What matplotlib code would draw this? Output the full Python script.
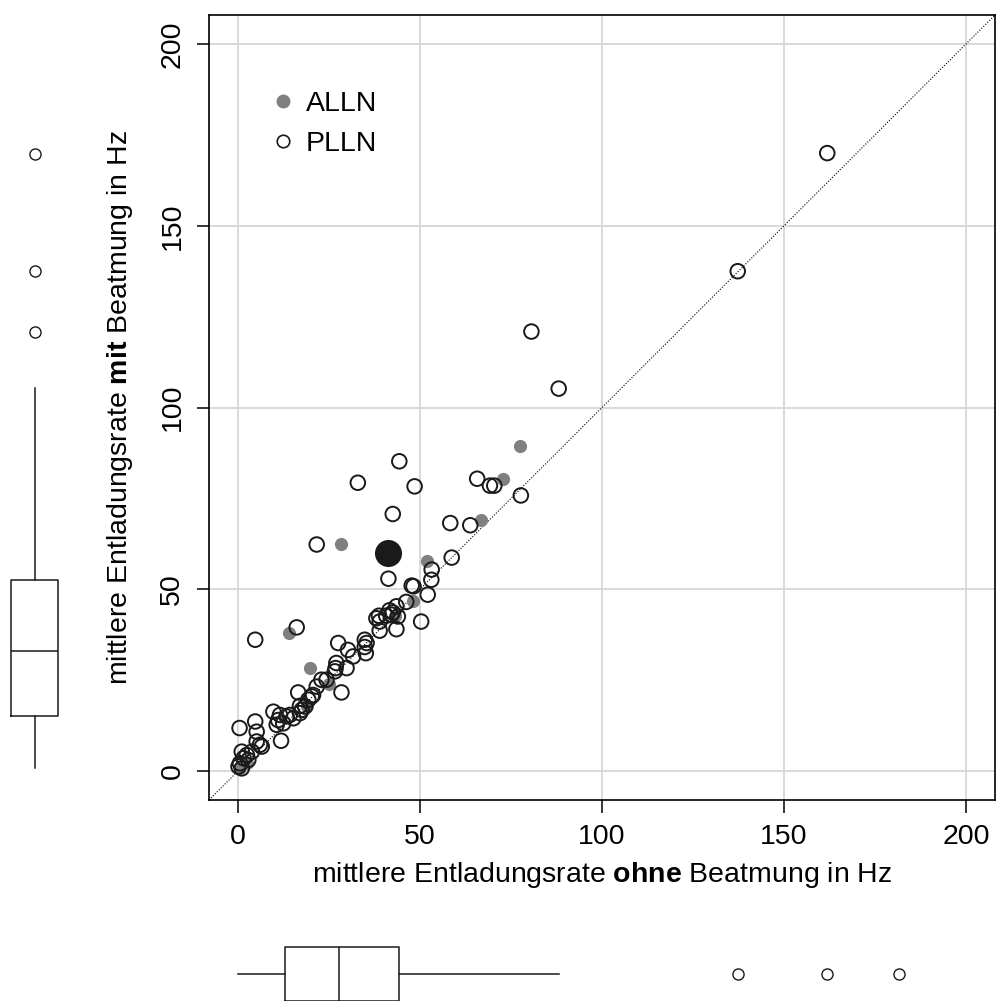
import numpy as np
import matplotlib
matplotlib.use('Agg')
import matplotlib.pyplot as plt
from matplotlib.lines import Line2D

plt.rcParams['font.family'] = ['Liberation Sans', 'DejaVu Sans']
plt.rcParams['mathtext.fontset'] = 'custom'
plt.rcParams['mathtext.rm'] = 'Liberation Sans'
plt.rcParams['mathtext.bf'] = 'Liberation Sans:bold'

# ALLN cells (grey dots): rate without / with ventilation, Hz
alln_ohne = [77.5, 72.7, 66.8, 28.4, 51.8, 48.0, 14.1, 19.7, 25.0, 18.8, 43.0, 0.4, 2.5]
alln_mit = [89.3, 80.4, 69.1, 62.5, 57.9, 46.8, 37.9, 28.2, 24.0, 18.0, 42.5, 0.8, 2.3]

# PLLN cells (open circles)
plln_ohne = [161.9, 137.3, 80.6, 88.1, 44.3, 32.9, 48.5, 65.7, 69.2, 70.4,
             77.7, 42.5, 58.3, 63.8, 21.6, 58.7, 41.3, 53.2, 53.1, 47.7,
             48.2, 52.1, 46.2, 43.5, 50.3, 43.5, 4.7, 16.1,
             41.6, 42.5, 42.1, 40.7, 43.9, 38.7, 38.0, 38.9, 38.9,
             34.8, 35.3, 34.8, 35.1, 27.5, 30.2, 31.6,
             27.0, 26.8, 26.6, 29.8, 22.9, 24.3, 21.6, 28.4, 16.5,
             20.6, 20.2, 19.3, 17.0, 18.4, 17.5, 17.0,
             9.7, 11.5, 11.0, 13.3, 14.2, 15.2, 12.4, 10.6, 11.8,
             4.7, 0.4, 5.1, 5.1, 6.0, 6.5, 3.8, 2.4, 1.0, 1.5, 2.8, 0.5, 0.1, 1.0]
plln_mit = [170.0, 137.5, 120.9, 105.2, 85.2, 79.3, 78.3, 80.4, 78.5, 78.5,
            75.8, 70.7, 68.2, 67.6, 62.3, 58.7, 52.9, 55.4, 52.6, 51.0,
            50.8, 48.5, 46.5, 45.3, 41.1, 39.0, 36.1, 39.5,
            44.2, 43.6, 43.0, 42.7, 42.5, 42.7, 42.0, 41.1, 38.6,
            36.1, 35.2, 34.1, 32.4, 35.2, 33.3, 31.5,
            29.7, 28.3, 27.4, 28.3, 25.1, 25.1, 23.2, 21.6, 21.6,
            20.9, 20.5, 19.6, 17.9, 17.7, 16.8, 15.9,
            16.3, 15.4, 14.0, 15.0, 15.4, 14.5, 13.1, 12.7, 8.3,
            13.6, 11.8, 10.8, 8.1, 7.2, 6.7, 5.3, 4.4, 5.3, 3.5, 3.0, 2.1, 1.2, 0.7]

# mean of all cells (big black dot)
mean_ohne = 41.3
mean_mit = 60.0

# boxplot summaries read from the margins
box_mit = dict(whislo=0.8, q1=15.2, med=33.1, q3=52.6, whishi=105.5,
               fliers=[120.9, 137.5, 169.7])
box_ohne = dict(whislo=0.0, q1=12.9, med=27.8, q3=44.2, whishi=88.2,
                fliers=[137.5, 161.9, 181.6])

ticks = [0, 50, 100, 150, 200]
lims = (-8, 208)
fs = 20.5

fig = plt.figure(figsize=(9.96, 10.01), dpi=100)
L, B, R, T = 209 / 996, 1 - 800 / 1001, 995 / 996, 1 - 15 / 1001
ax = fig.add_axes([L, B, R - L, T - B])

for t in ticks:
    ax.axvline(t, color='#d9d9d9', lw=1.4, zorder=0)
    ax.axhline(t, color='#d9d9d9', lw=1.4, zorder=0)
ax.plot(lims, lims, color='black', lw=0.8, ls=(0, (1, 1.5)), zorder=1)

ax.scatter(alln_ohne, alln_mit, s=90, color='#808080', lw=0, zorder=2)
ax.scatter(plln_ohne, plln_mit, s=110, facecolor='none', edgecolor='#1a1a1a',
           lw=1.4, zorder=3)
ax.scatter([mean_ohne], [mean_mit], s=380, color='#1a1a1a', lw=0, zorder=4)

ax.set_xlim(lims)
ax.set_ylim(lims)
ax.set_xticks(ticks)
ax.set_yticks(ticks)
ax.tick_params(length=9, width=1.1, labelsize=fs, pad=8)
plt.setp(ax.get_yticklabels(), rotation=90, va='center')
for s in ax.spines.values():
    s.set_linewidth(1.2)

ax.set_xlabel('mittlere Entladungsrate $\\bf{ohne}$ Beatmung in Hz',
              fontsize=fs, labelpad=7.5)
ax.set_ylabel('mittlere Entladungsrate $\\bf{mit}$ Beatmung in Hz',
              fontsize=fs, labelpad=17.5)

handles = [Line2D([], [], ls='none', marker='o', ms=9, mfc='#808080', mec='#808080'),
           Line2D([], [], ls='none', marker='o', ms=9, mfc='none', mec='#1a1a1a', mew=1.2)]
ax.legend(handles, ['ALLN', 'PLLN'], loc='upper left', bbox_to_anchor=(0.069, 0.918),
          frameon=False, fontsize=fs, handlelength=0.6, handletextpad=0.5,
          labelspacing=0.49, borderaxespad=0)

# left marginal boxplot
axl = fig.add_axes([0, B, 70 / 996, T - B])
axl.bxp([box_mit], positions=[34.5], widths=47, showcaps=False,
        boxprops=dict(color='#1a1a1a', lw=1.1), medianprops=dict(color='#1a1a1a', lw=1.1),
        whiskerprops=dict(color='#1a1a1a', lw=1.1, ls='-'),
        flierprops=dict(marker='o', ms=8, mfc='none', mec='#1a1a1a', mew=1.0))
axl.set_xlim(0, 70)
axl.set_ylim(lims)
axl.axis('off')

# bottom marginal boxplot
axb = fig.add_axes([L, 0, R - L, 60 / 1001])
axb.bxp([box_ohne], positions=[27], widths=54, vert=False, showcaps=False,
        boxprops=dict(color='#1a1a1a', lw=1.1), medianprops=dict(color='#1a1a1a', lw=1.1),
        whiskerprops=dict(color='#1a1a1a', lw=1.1, ls='-'),
        flierprops=dict(marker='o', ms=8, mfc='none', mec='#1a1a1a', mew=1.0))
axb.set_xlim(lims)
axb.set_ylim(0, 60)
axb.axis('off')

fig.savefig('out.png', dpi=100)
